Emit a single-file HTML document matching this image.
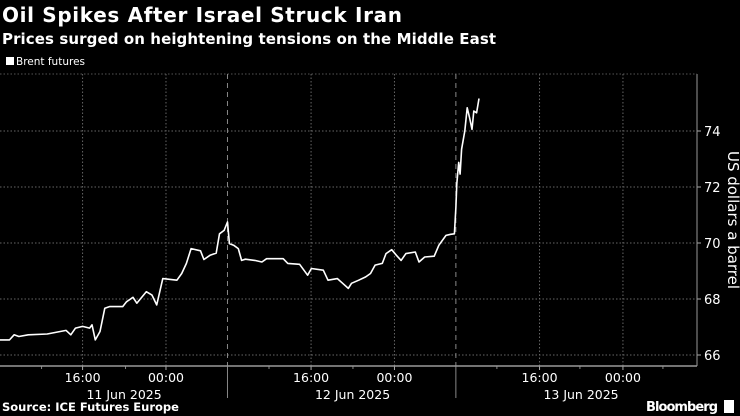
<!DOCTYPE html>
<html><head><meta charset="utf-8"><style>
html,body{margin:0;padding:0;background:#000;}
svg{display:block;}
text{font-family:"DejaVu Sans","Liberation Sans",sans-serif;fill:#fff;}
</style></head><body>
<svg id="chart" width="740" height="416" viewBox="0 0 740 416">
<text x="2" y="22" font-size="20" font-weight="bold" textLength="400">Oil Spikes After Israel Struck Iran</text>
<text x="2" y="44" font-size="15" font-weight="bold" textLength="494">Prices surged on heightening tensions on the Middle East</text>
<rect x="6" y="57" width="8" height="8" fill="#fff"/>
<text x="16" y="65" font-size="10.5" fill="#ddd">Brent futures</text>
<g id="grid"></g>
<g id="axes"></g>
<path id="line" fill="none" stroke="#fff" stroke-width="1.6" stroke-linejoin="round"/>
<text x="2" y="411" font-size="11.5" font-weight="bold">Source: ICE Futures Europe</text>
<text x="646" y="411" font-size="13" font-weight="bold" textLength="72">Bloomberg</text>
<rect x="724" y="400" width="10" height="13" fill="#fff"/>
</svg>
<script>
// hours since 11 Jun 2025 00:00
const hours=[6.57,7.56,8.05,8.55,9.54,11.52,13.51,14.00,14.50,15.24,15.98,16.23,16.58,17.07,17.57,18.07,19.45,19.85,20.54,20.94,21.93,22.53,23.02,23.67,25.15,25.65,26.15,26.64,27.63,27.98,28.62,29.27,29.62,30.11,30.46,30.66,31.10,31.60,31.94,32.34,33.33,34.08,34.57,36.31,36.80,38.04,38.88,39.28,40.52,41.02,42.01,42.50,43.15,43.49,44.24,44.98,45.48,45.97,46.72,47.11,47.71,48.20,48.70,49.20,50.19,50.58,51.18,52.17,52.67,53.41,53.91,54.30,54.45,54.55,54.75,54.90,55.05,55.39,55.64,55.89,56.14,56.33,56.63,56.88];
const prices=[66.54,66.54,66.72,66.66,66.72,66.75,66.88,66.72,66.96,67.02,66.96,67.08,66.54,66.84,67.67,67.73,67.73,67.90,68.06,67.85,68.26,68.14,67.79,68.73,68.67,68.91,69.27,69.80,69.72,69.41,69.56,69.64,70.33,70.45,70.75,69.98,69.92,69.80,69.38,69.42,69.38,69.32,69.44,69.44,69.27,69.24,68.85,69.09,69.03,68.67,68.73,68.58,68.38,68.56,68.67,68.79,68.91,69.21,69.27,69.62,69.76,69.56,69.38,69.62,69.68,69.32,69.50,69.53,69.92,70.27,70.31,70.33,71.28,72.11,72.88,72.46,73.35,74.00,74.83,74.47,74.06,74.71,74.65,75.16];
const yTicks=[66,68,70,72,74];
const xTickHours=[15.24,24,39.24,48,63.24,72];
const xTickLabels=["16:00","00:00","16:00","00:00","16:00","00:00"];
const minorHours=[10.93,19.75,34.82,43.64,58.76,67.48,76.2];
const dayDividers=[30.46,54.45];
const dayLabels=["11 Jun 2025","12 Jun 2025","13 Jun 2025"];
const dayLabelHours=[19.6,43.6,67.6];

const X0=-62.5, PXH=9.52;
const x=h=>X0+h*PXH;
const y=v=>355-(v-66)*28;
const NS="http://www.w3.org/2000/svg";
function mk(tag,attrs,parent){const e=document.createElementNS(NS,tag);for(const k in attrs)e.setAttribute(k,attrs[k]);parent.appendChild(e);return e;}
const grid=document.getElementById('grid'), axes=document.getElementById('axes');
const R=697, TOP=74, BOT=366;
mk('line',{x1:0,x2:R,y1:TOP,y2:TOP,stroke:'#555','stroke-dasharray':'1.5,2'},grid);
yTicks.forEach(v=>{
  const l=mk('line',{x1:0,x2:R,y1:y(v),y2:y(v),stroke:'#666','stroke-dasharray':'1.5,2'},grid);
  
  
  mk('line',{x1:R,x2:R+4,y1:y(v),y2:y(v),stroke:'#aaa'},axes);
  const t=mk('text',{x:R+7,y:y(v)+5,'font-size':13,fill:'#ccc'},axes);
  t.textContent=v;
  
  
});
xTickHours.forEach((h,i)=>{
  const l=mk('line',{x1:x(h),x2:x(h),y1:TOP,y2:BOT,stroke:'#666','stroke-dasharray':'1.5,2'},grid);
  
  
  mk('line',{x1:x(h),x2:x(h),y1:BOT,y2:BOT+4,stroke:'#aaa'},axes);
  const t=mk('text',{x:x(h),y:BOT+16,'font-size':12.5,fill:'#ccc','text-anchor':'middle'},axes);
  t.textContent=xTickLabels[i];
  
  
});
minorHours.forEach(h=>{mk('line',{x1:x(h),x2:x(h),y1:BOT,y2:BOT+3,stroke:'#888'},axes);});
dayDividers.forEach(h=>{
  const l=mk('line',{x1:x(h),x2:x(h),y1:TOP,y2:BOT,stroke:'#888','stroke-dasharray':'5,4'},grid);
  
  
  mk('line',{x1:x(h),x2:x(h),y1:BOT,y2:398,stroke:'#888'},axes);
});
dayLabels.forEach((d,i)=>{
  const t=mk('text',{x:x(dayLabelHours[i]),y:BOT+33,'font-size':12.5,fill:'#ccc','text-anchor':'middle'},axes);
  t.textContent=d;
  
  
});
const ax=mk('line',{x1:0,x2:R,y1:BOT,y2:BOT,stroke:'#999','stroke-width':1.5},axes);


const ay=mk('line',{x1:R,x2:R,y1:TOP,y2:BOT,stroke:'#999'},axes);


const yt=mk('text',{x:0,y:0,'font-size':15,fill:'#ccc','text-anchor':'middle',transform:'translate(728,220) rotate(90)'},axes);
yt.textContent='US dollars a barrel';


document.getElementById('line').setAttribute('d',hours.map((h,i)=>(i?'L':'M')+x(h).toFixed(1)+','+y(prices[i]).toFixed(1)).join(''));
</script>
</body></html>
